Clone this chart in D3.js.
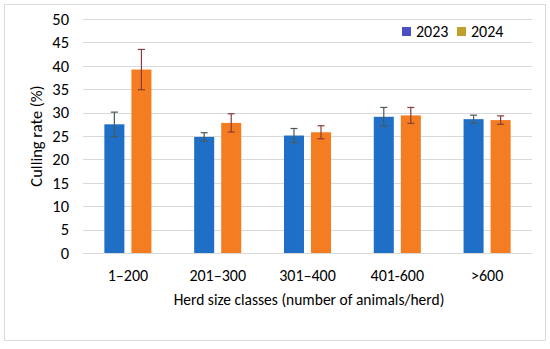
<!DOCTYPE html>
<html>
<head>
<meta charset="utf-8">
<script src="https://cdn.jsdelivr.net/npm/d3@7"></script>
<style>
  body { margin: 0; background: #fff; }
  svg { font-family: Carlito, Lato, "Noto Sans", sans-serif; }
</style>
</head>
<body>
<script>
const width = 550;
const height = 349;

const categories = ["1\u2013200", "201\u2013300", "301\u2013400", "401-600", ">600"];
const years = ["2023", "2024"];
const values2023 = [27.5, 24.8, 25.1, 29.1, 28.6];
const values2024 = [39.2, 27.8, 25.8, 29.4, 28.4];
const err2023 = [2.6, 0.9, 1.5, 2.0, 0.85];
const err2024 = [4.3, 1.95, 1.4, 1.7, 0.9];
const yTicks = [0, 5, 10, 15, 20, 25, 30, 35, 40, 45, 50];

const barColors = {"2023": "#1f6fc6", "2024": "#f47d22"};
const legendColors = {"2023": "#4a50c4", "2024": "#bfa02e"};
const errColors = {"2023": "#4a5a5a", "2024": "#8a3c3c"};

const margin = {top: 19, right: 18, bottom: 96, left: 83};

let svg = d3.select("body").append("svg")
    .attr("width", width)
    .attr("height", height);

// light frame round the figure
svg.append("rect")
    .attr("x", 4.5).attr("y", 4.5)
    .attr("width", 541).attr("height", 336)
    .attr("fill", "none")
    .attr("stroke", "#dcdcdc");

let x = d3.scaleBand()
    .domain(categories)
    .range([margin.left, width - margin.right]);

let xInner = d3.scaleBand()
    .domain(years)
    .range([0, x.bandwidth()])
    .paddingInner(0.26)
    .paddingOuter(0.79);

let y = d3.scaleLinear()
    .domain([0, 50])
    .range([height - margin.bottom, margin.top]);

// gridlines
svg.append("g")
    .selectAll("line")
    .data(yTicks)
    .enter().append("line")
    .attr("x1", margin.left)
    .attr("x2", width - margin.right)
    .attr("y1", d => Math.round(y(d)) + 0.5)
    .attr("y2", d => Math.round(y(d)) + 0.5)
    .attr("stroke", "#d9d9d9")
    .attr("stroke-width", 1);

// y tick labels
svg.append("g")
    .selectAll("text")
    .data(yTicks)
    .enter().append("text")
    .attr("x", 69)
    .attr("y", d => y(d))
    .attr("dy", "0.35em")
    .attr("text-anchor", "end")
    .attr("font-size", 16.5)
    .attr("fill", "#000")
    .text(d => d);

let rows = categories.map(function(c, i) {
    return {
        cat: c,
        bars: [
            {year: "2023", value: values2023[i], err: err2023[i]},
            {year: "2024", value: values2024[i], err: err2024[i]}
        ]
    };
});

let groups = svg.append("g")
    .selectAll("g")
    .data(rows)
    .enter().append("g")
    .attr("transform", d => "translate(" + x(d.cat) + ",0)");

groups.selectAll("rect")
    .data(d => d.bars)
    .enter().append("rect")
    .attr("x", d => xInner(d.year))
    .attr("y", d => y(d.value))
    .attr("width", xInner.bandwidth())
    .attr("height", d => y(0) - y(d.value))
    .attr("fill", d => barColors[d.year]);

// error bars
let errs = groups.selectAll("g.err")
    .data(d => d.bars)
    .enter().append("g")
    .attr("class", "err")
    .attr("stroke", d => errColors[d.year])
    .attr("stroke-width", 1.2);

errs.append("line")
    .attr("x1", d => xInner(d.year) + xInner.bandwidth() / 2)
    .attr("x2", d => xInner(d.year) + xInner.bandwidth() / 2)
    .attr("y1", d => y(d.value + d.err))
    .attr("y2", d => y(d.value - d.err));

errs.selectAll("line.cap")
    .data(d => [d, {year: d.year, value: d.value, err: -d.err}])
    .enter().append("line")
    .attr("class", "cap")
    .attr("x1", d => xInner(d.year) + xInner.bandwidth() / 2 - 3.5)
    .attr("x2", d => xInner(d.year) + xInner.bandwidth() / 2 + 3.5)
    .attr("y1", d => y(d.value + d.err))
    .attr("y2", d => y(d.value + d.err));

// x tick labels
svg.append("g")
    .selectAll("text")
    .data(categories)
    .enter().append("text")
    .attr("x", d => x(d) + x.bandwidth() / 2)
    .attr("y", 281)
    .attr("text-anchor", "middle")
    .attr("font-size", 16)
    .attr("fill", "#000")
    .text(d => d);

// axis titles
svg.append("text")
    .attr("x", 309)
    .attr("y", 305)
    .attr("text-anchor", "middle")
    .attr("font-size", 15.5)
    .attr("fill", "#000")
    .text("Herd size classes (number of animals/herd)");

svg.append("text")
    .attr("transform", "translate(42," + (y(25)) + ")rotate(-90)")
    .attr("text-anchor", "middle")
    .attr("font-size", 16.5)
    .attr("fill", "#000")
    .text("Culling rate (%)");

// legend
let legend = svg.append("g")
    .selectAll("g")
    .data(years)
    .enter().append("g")
    .attr("transform", (d, i) => "translate(" + (402 + i * 55) + ",27)");

legend.append("rect")
    .attr("width", 9)
    .attr("height", 9)
    .attr("fill", d => legendColors[d]);

legend.append("text")
    .attr("x", 14)
    .attr("y", 4.5)
    .attr("dy", "0.35em")
    .attr("font-size", 16)
    .attr("fill", "#000")
    .text(d => d);
</script>
</body>
</html>
